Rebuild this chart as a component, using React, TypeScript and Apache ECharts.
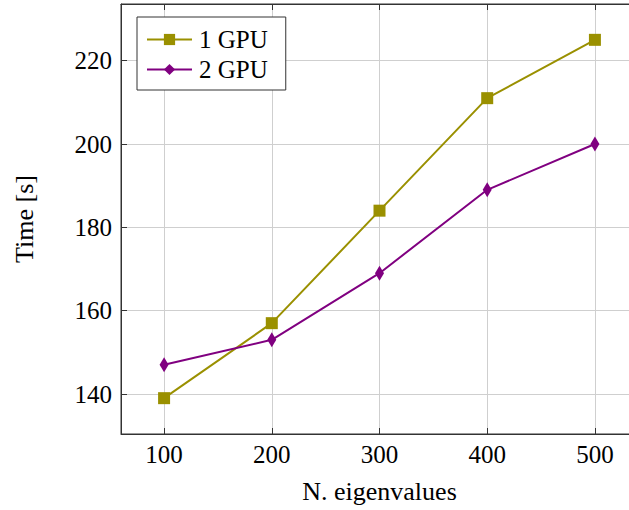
import React, { useEffect, useRef } from "react";
import * as echarts from "echarts";

const xValues = [100, 200, 300, 400, 500];
const gpu1 = [139, 157, 184, 211, 225];
const gpu2 = [147, 153, 169, 189, 200];
const seriesNames = ["1 GPU", "2 GPU"];
const xName = "N. eigenvalues";
const yName = "Time [s]";

const FONT = "'Liberation Serif', 'DejaVu Serif', serif";
const OLIVE = "#9a9000";
const PURPLE = "#800080";
const FRAME = "#333333";
const GRID = "#cfcfcf";

export default function App() {
  const ref = useRef<HTMLDivElement>(null);
  useEffect(() => {
    if (!ref.current) return;
    const chart = echarts.init(ref.current, undefined, { renderer: "svg" });
    const baseX = {
      type: "value" as const,
      min: 60,
      max: 540,
      splitNumber: 5,
      axisLine: { show: true, lineStyle: { color: FRAME, width: 1 } },
      axisTick: { show: true, inside: true, length: 6, lineStyle: { color: FRAME } },
    };
    const baseY = {
      type: "value" as const,
      min: 130.4,
      max: 233.6,
      splitNumber: 5,
      axisLine: { show: true, lineStyle: { color: FRAME, width: 1 } },
      axisTick: { show: true, inside: true, length: 6, lineStyle: { color: FRAME } },
    };
    chart.setOption({
      animation: false,
      backgroundColor: "#ffffff",
      textStyle: { fontFamily: FONT },
      grid: {
        left: 121,
        top: 4,
        width: 517,
        height: 430,
        show: true,
        borderColor: FRAME,
        borderWidth: 1,
        containLabel: false,
      },
      legend: {
        left: 137,
        top: 17,
        orient: "vertical",
        itemWidth: 45,
        itemHeight: 14,
        itemGap: 5,
        padding: [10, 18, 8, 9],
        borderColor: FRAME,
        borderWidth: 1,
        borderRadius: 0,
        backgroundColor: "#ffffff",
        textStyle: { fontFamily: FONT, fontSize: 25, color: "#000", padding: [0, 0, 0, 2] },
        data: seriesNames,
      },
      xAxis: [
        {
          ...baseX,
          position: "bottom",
          name: xName,
          nameLocation: "middle",
          nameGap: 44,
          nameTextStyle: { fontFamily: FONT, fontSize: 26, color: "#000" },
          axisLabel: {
            fontFamily: FONT,
            fontSize: 25,
            color: "#000",
            margin: 8,
            showMinLabel: false,
            showMaxLabel: false,
          },
          splitLine: { show: true, lineStyle: { color: GRID, width: 1 } },
        },
        {
          ...baseX,
          position: "top",
          axisLabel: { show: false },
          splitLine: { show: false },
        },
      ],
      yAxis: [
        {
          ...baseY,
          position: "left",
          name: yName,
          nameLocation: "middle",
          nameGap: 84,
          nameRotate: 90,
          nameTextStyle: { fontFamily: FONT, fontSize: 26, color: "#000" },
          axisLabel: {
            fontFamily: FONT,
            fontSize: 25,
            color: "#000",
            margin: 9,
            showMinLabel: false,
            showMaxLabel: false,
          },
          splitLine: { show: true, lineStyle: { color: GRID, width: 1 } },
        },
        {
          ...baseY,
          position: "right",
          axisLabel: { show: false },
          splitLine: { show: false },
        },
      ],
      series: [
        {
          name: seriesNames[0],
          type: "line",
          data: xValues.map((x, i) => [x, gpu1[i]]),
          symbol: "rect",
          symbolSize: 12,
          showAllSymbol: true,
          lineStyle: { color: OLIVE, width: 2 },
          itemStyle: { color: OLIVE },
        },
        {
          name: seriesNames[1],
          type: "line",
          data: xValues.map((x, i) => [x, gpu2[i]]),
          symbol: "diamond",
          symbolSize: [9, 15],
          showAllSymbol: true,
          lineStyle: { color: PURPLE, width: 2 },
          itemStyle: { color: PURPLE },
        },
      ],
    });
    return () => chart.dispose();
  }, []);
  return (
    <div
      style={{
        position: "absolute",
        left: 0,
        top: 0,
        width: 629,
        height: 510,
        overflow: "hidden",
      }}
    >
      <div ref={ref} style={{ width: 642, height: 510 }} />
    </div>
  );
}
